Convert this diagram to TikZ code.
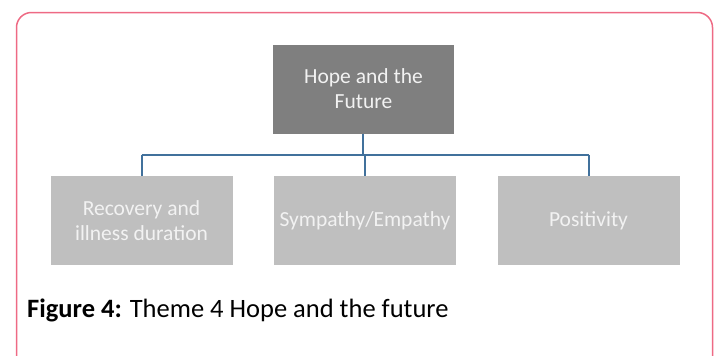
\documentclass[tikz,border=0pt]{standalone}
\usepackage{fontspec}
\setmainfont{Carlito}
\definecolor{framecol}{HTML}{EE6A84}
\definecolor{topfill}{HTML}{7F7F7F}
\definecolor{childfill}{HTML}{BFBFBF}
\definecolor{linkcol}{HTML}{41719C}
\definecolor{boxtext}{HTML}{F2F2F2}
\begin{document}
\begin{tikzpicture}[x=1pt,y=-1pt,
  topbox/.style={fill=topfill,draw=none,minimum width=181pt,minimum height=89pt,text=boxtext,font=\fontsize{21.5}{25}\selectfont,align=center,inner sep=0pt},
  childbox/.style={fill=childfill,draw=none,minimum width=182pt,minimum height=89pt,text=boxtext,font=\fontsize{21.5}{25}\selectfont,align=center,inner sep=0pt},
  link/.style={draw=linkcol,line width=2pt}]
\useasboundingbox (0,0) rectangle (715,356);
\draw[framecol,line width=1.5pt,rounded corners=15pt] (16.5,12.5) rectangle (712.5,372);
\node[topbox] (top) at (363.5,89) {Hope and the\\Future};
\node[childbox] (c1) at (141.5,220.5) {Recovery and\\illness duration};
\node[childbox] (c2) at (365,220.5) {Sympathy/Empathy};
\node[childbox] (c3) at (588.5,220.5) {Positivity};
\coordinate (hub) at (363,155);
\coordinate (l1) at (141.5,155);
\coordinate (l3) at (588.5,155);
\draw[link] (top.south -| hub) -- (hub);
\draw[link] (l1) -- (l3);
\draw[link] (l1) -- (c1.north);
\draw[link] (hub -| c2) -- (c2.north);
\draw[link] (l3) -- (c3.north);
\node[anchor=west,font=\fontsize{26.5}{30}\selectfont,inner sep=0pt] (cap) at (27,310) {\textbf{Figure 4:} Theme 4 Hope and the future};
\end{tikzpicture}
\end{document}
